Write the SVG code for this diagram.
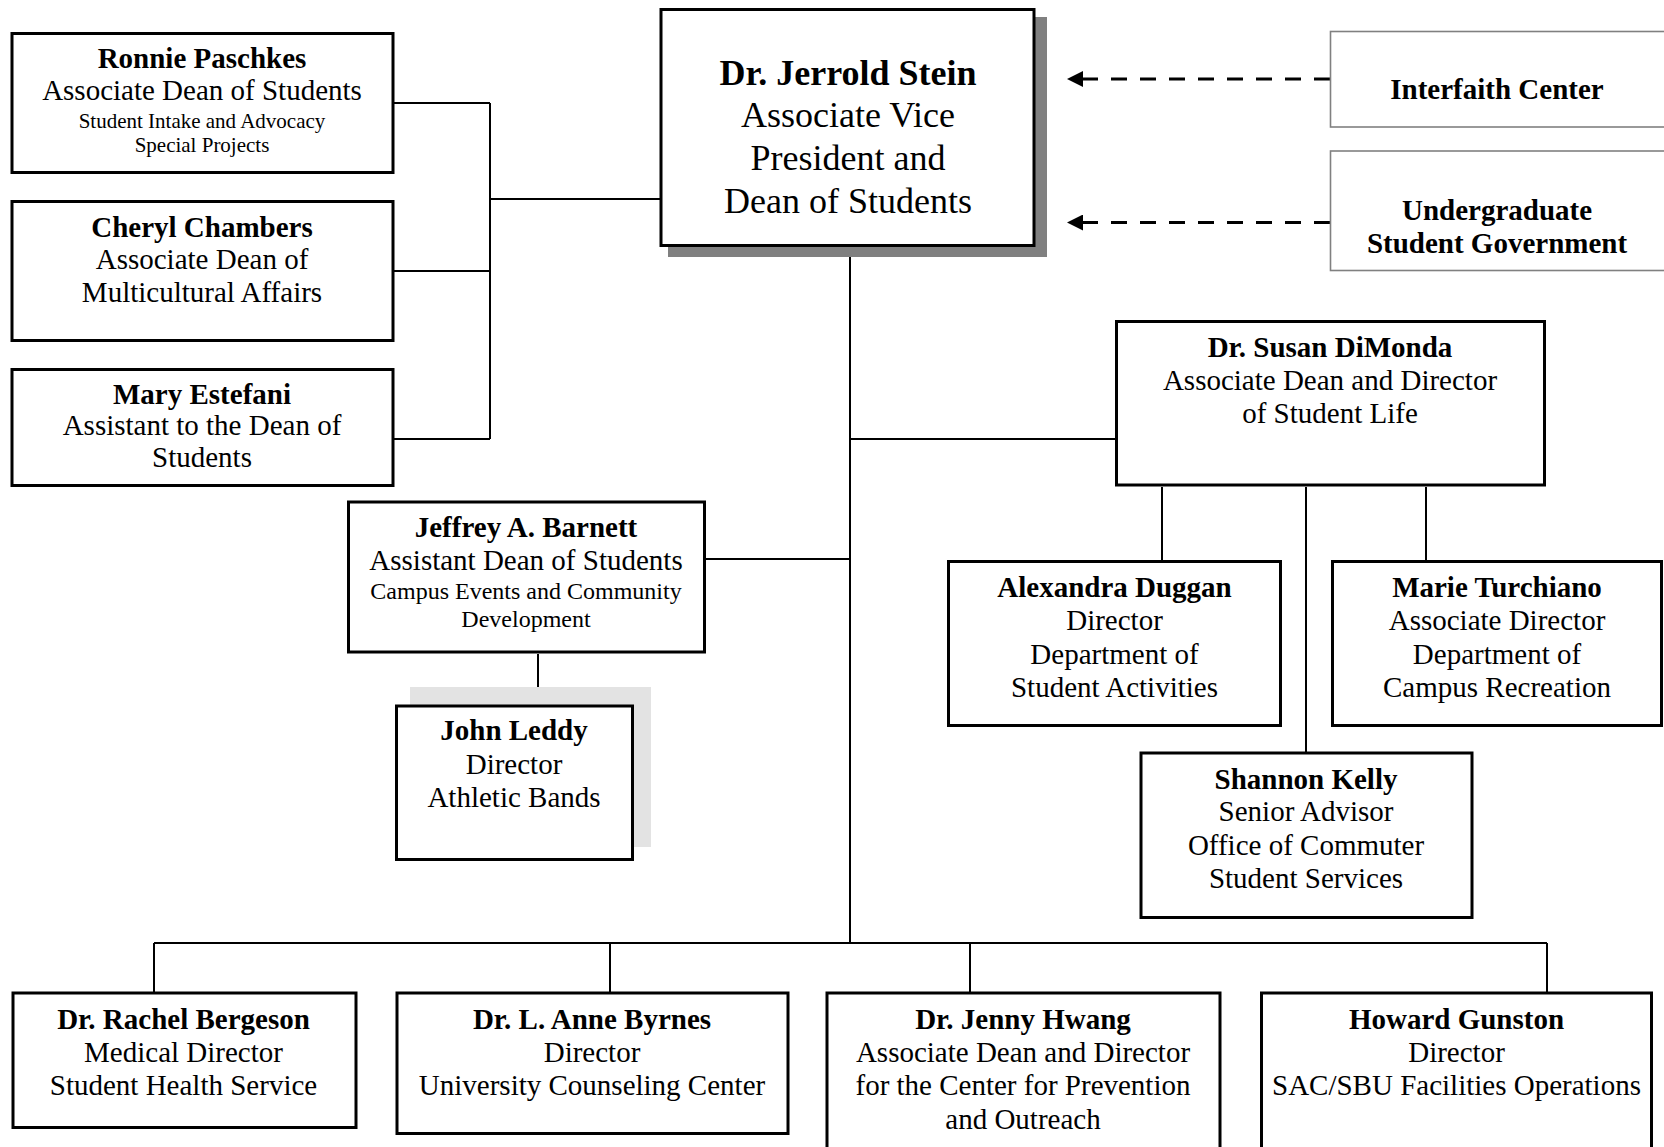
<svg xmlns="http://www.w3.org/2000/svg" width="1664" height="1147" viewBox="0 0 1664 1147">
<style>
text{font-family:"Liberation Serif","Times New Roman",serif;fill:#000;text-anchor:middle}
.n{font-weight:bold;font-size:29px}
.t{font-size:29px}
.s21{font-size:21px}
.s24{font-size:24px}
.box{fill:#fff;stroke:#000;stroke-width:3}
.gbox{fill:#fff;stroke:#808080;stroke-width:1.6}
.ln{fill:none;stroke:#000;stroke-width:2}
.dash{fill:none;stroke:#000;stroke-width:3;stroke-dasharray:16 13}
</style>
<defs>
<marker id="arr" viewBox="0 0 16 16" refX="6" refY="8" markerWidth="16" markerHeight="16" markerUnits="userSpaceOnUse" orient="auto"><path d="M0,0 L16,8 L0,16 z" fill="#000"/></marker>
</defs>
<rect width="1664" height="1147" fill="#fff"/>

<g id="connectors">
<path class="ln" d="M394 103 H490 M394 271 H490 M394 439 H490 M490 103 V439 M490 199 H660"/>
<path class="ln" d="M850 247 V943 M850 439 H1115 M706 559 H850 M538 654 V705"/>
<path class="ln" d="M1162 487 V560 M1306 487 V752 M1426 487 V560"/>
<path class="ln" d="M154 943 H1547 M154 943 V992 M610 943 V992 M970 943 V992 M1547 943 V992"/>
<path class="dash" d="M1330 79 L1077 79" marker-end="url(#arr)"/>
<path class="dash" d="M1330 222.5 L1077 222.5" marker-end="url(#arr)"/>
</g>

<g id="stein">
<rect x="668" y="17" width="379" height="240" fill="#808080"/>
<rect class="box" x="661" y="9.5" width="373" height="236"/>
<text x="848" y="85" style="font-size:36px;font-weight:bold">Dr. Jerrold Stein</text>
<text x="848" y="127" style="font-size:36px">Associate Vice</text>
<text x="848" y="170" style="font-size:36px">President and</text>
<text x="848" y="213" style="font-size:36px">Dean of Students</text>
</g>

<g id="paschkes">
<rect class="box" x="12" y="33.5" width="381" height="139"/>
<text class="n" x="202" y="68">Ronnie Paschkes</text>
<text class="t" x="202" y="100">Associate Dean of Students</text>
<text class="s21" x="202" y="127.5">Student Intake and Advocacy</text>
<text class="s21" x="202" y="151.5">Special Projects</text>
</g>

<g id="chambers">
<rect class="box" x="12" y="201.5" width="381" height="139"/>
<text class="n" x="202" y="236.5">Cheryl Chambers</text>
<text class="t" x="202" y="268.5">Associate Dean of</text>
<text class="t" x="202" y="301.5">Multicultural Affairs</text>
</g>

<g id="estefani">
<rect class="box" x="12" y="369.5" width="381" height="116"/>
<text class="n" x="202" y="403.5">Mary Estefani</text>
<text class="t" x="202" y="435">Assistant to the Dean of</text>
<text class="t" x="202" y="466.5">Students</text>
</g>

<g id="interfaith">
<rect class="gbox" x="1330.5" y="31.5" width="345" height="95.5"/>
<text class="n" x="1497" y="99">Interfaith Center</text>
</g>

<g id="usg">
<rect class="gbox" x="1330.5" y="151" width="345" height="119.5"/>
<text class="n" x="1497" y="220">Undergraduate</text>
<text class="n" x="1497" y="253">Student Government</text>
</g>

<g id="dimonda">
<rect class="box" x="1116.5" y="321.5" width="428" height="163.5"/>
<text class="n" x="1330" y="356.5">Dr. Susan DiMonda</text>
<text class="t" x="1330" y="390">Associate Dean and Director</text>
<text class="t" x="1330" y="423">of Student Life</text>
</g>

<g id="barnett">
<rect class="box" x="348.5" y="502" width="356" height="150"/>
<text class="n" x="526" y="536.5">Jeffrey A. Barnett</text>
<text class="t" x="526" y="569.5">Assistant Dean of Students</text>
<text class="s24" x="526" y="598.5">Campus Events and Community</text>
<text class="s24" x="526" y="626.5">Development</text>
</g>

<g id="leddy">
<rect x="410" y="687" width="241" height="160" fill="#e3e3e3"/>
<rect class="box" x="396.5" y="706" width="236" height="153.5"/>
<text class="n" x="514" y="740">John Leddy</text>
<text class="t" x="514" y="773.5">Director</text>
<text class="t" x="514" y="806.5">Athletic Bands</text>
</g>

<g id="duggan">
<rect class="box" x="948.5" y="561.5" width="332" height="164"/>
<text class="n" x="1114.5" y="596.5">Alexandra Duggan</text>
<text class="t" x="1114.5" y="630">Director</text>
<text class="t" x="1114.5" y="663.5">Department of</text>
<text class="t" x="1114.5" y="696.5">Student Activities</text>
</g>

<g id="turchiano">
<rect class="box" x="1332.5" y="561.5" width="329" height="164"/>
<text class="n" x="1497" y="596.5">Marie Turchiano</text>
<text class="t" x="1497" y="630">Associate Director</text>
<text class="t" x="1497" y="663.5">Department of</text>
<text class="t" x="1497" y="696.5">Campus Recreation</text>
</g>

<g id="kelly">
<rect class="box" x="1141" y="753" width="331" height="164.5"/>
<text class="n" x="1306" y="788.5">Shannon Kelly</text>
<text class="t" x="1306" y="821">Senior Advisor</text>
<text class="t" x="1306" y="854.5">Office of Commuter</text>
<text class="t" x="1306" y="887.5">Student Services</text>
</g>

<g id="bergeson">
<rect class="box" x="13" y="993" width="343" height="134.5"/>
<text class="n" x="183.5" y="1028.5">Dr. Rachel Bergeson</text>
<text class="t" x="183.5" y="1061.5">Medical Director</text>
<text class="t" x="183.5" y="1095">Student Health Service</text>
</g>

<g id="byrnes">
<rect class="box" x="397" y="993" width="391" height="140.5"/>
<text class="n" x="592" y="1028.5">Dr. L. Anne Byrnes</text>
<text class="t" x="592" y="1061.5">Director</text>
<text class="t" x="592" y="1095">University Counseling Center</text>
</g>

<g id="hwang">
<rect class="box" x="827" y="993" width="393" height="170"/>
<text class="n" x="1023" y="1028.5">Dr. Jenny Hwang</text>
<text class="t" x="1023" y="1061.5">Associate Dean and Director</text>
<text class="t" x="1023" y="1095">for the Center for Prevention</text>
<text class="t" x="1023" y="1129">and Outreach</text>
</g>

<g id="gunston">
<rect class="box" x="1261.5" y="993" width="390" height="170"/>
<text class="n" x="1456.5" y="1028.5">Howard Gunston</text>
<text class="t" x="1456.5" y="1061.5">Director</text>
<text class="t" x="1456.5" y="1095">SAC/SBU Facilities Operations</text>
</g>
</svg>
